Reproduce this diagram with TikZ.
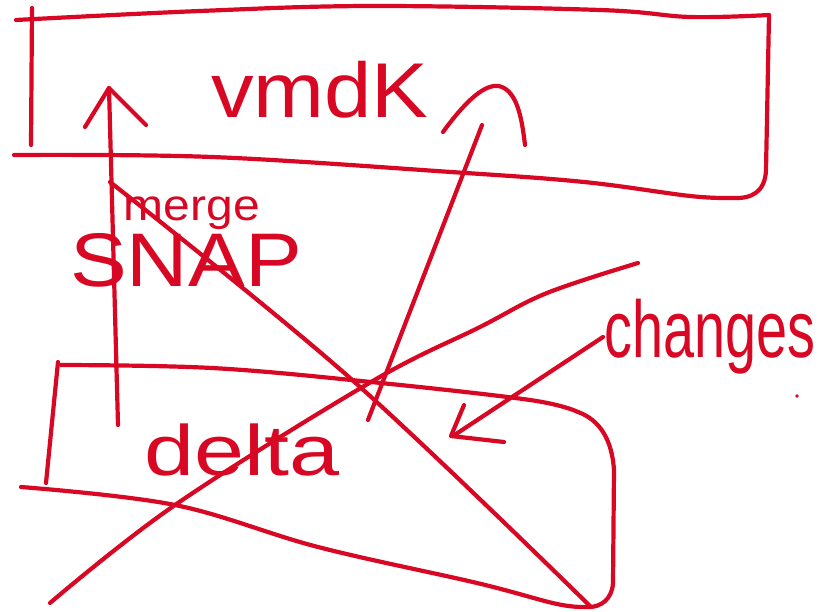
\documentclass[tikz,border=0pt]{standalone}
\usepackage{fontspec}
\setmainfont{Liberation Sans}
\definecolor{ink}{RGB}{216,8,36}
\begin{document}
\begin{tikzpicture}[x=1pt,y=-1pt,
  pen/.style={draw=ink,line width=4.2pt,line cap=round,line join=round},
  hand/.style={text=ink,inner sep=0pt,anchor=center}]
\useasboundingbox (0,0) rectangle (832,612);
% top box (vmdk)
\draw[pen] plot[smooth,tension=0.6] coordinates {(16,20) (200,11) (371,6) (600,10) (690,17) (769,15)};
\draw[pen] (32,8) -- (31,145);
\draw[pen] (769,15) -- (766,170) .. controls (765,192) and (752,199) .. (732,198);
\draw[pen] plot[smooth,tension=0.6] coordinates {(732,198) (690,196) (584,182) (451,172) (212,157) (14,155)};
% bottom box (delta)
\draw[pen] plot[smooth,tension=0.6] coordinates {(61,365) (212,368) (371,382) (530,400) (578,412)};
\draw[pen] (578,412) .. controls (600,420) and (612,440) .. (614,470) -- (613,583) .. controls (612,600) and (600,607) .. (589,607);
\draw[pen] plot[smooth,tension=0.6] coordinates {(589,607) (557,604) (477,583) (318,547) (175,505) (21,487)};
\draw[pen] (58,362) -- (46,483);
% crossing diagonals
\draw[pen] plot[smooth,tension=0.6] coordinates {(110,182) (350,378) (591,607)};
\draw[pen] plot[smooth,tension=0.6] coordinates {(50,603) (175,505) (371,382) (480,327) (547,293) (638,263)};
% arrows
\coordinate (a1s) at (118,425);
\coordinate (a1t) at (109,88);
\draw[pen] (a1s) -- (a1t);
\draw[pen] (85,127) -- (a1t) -- (146,125);
\coordinate (a2s) at (368,420);
\coordinate (a2t) at (482,125);
\draw[pen] (a2s) -- (a2t);
\draw[pen] (443,132) .. controls (470,95) and (490,80) .. (504,88) .. controls (518,96) and (522,120) .. (525,145);
\coordinate (a3s) at (603,337);
\coordinate (a3t) at (453,436);
\draw[pen] (a3s) -- (a3t);
\draw[pen] (464,405) -- (451,436) -- (504,442);
% texts
\node[hand,xscale=1.15,yscale=1.05] (vmdk) at (320,90) {\fontsize{74}{74}\selectfont vmdK};
\node[hand,xscale=1.2,yscale=1.1] (merge) at (192,213) {\fontsize{40}{40}\selectfont merge};
\node[hand,xscale=1.12] (snap) at (186,260) {\fontsize{76}{76}\selectfont SNAP};
\node[hand,xscale=1.45,yscale=1.15] (delta) at (242,450) {\fontsize{62}{62}\selectfont delta};
\node[hand,xscale=0.9,yscale=1.3] (changes) at (710,337) {\fontsize{62}{62}\selectfont changes};
\fill[ink] (797,396) circle (1.8pt);
\end{tikzpicture}
\end{document}
